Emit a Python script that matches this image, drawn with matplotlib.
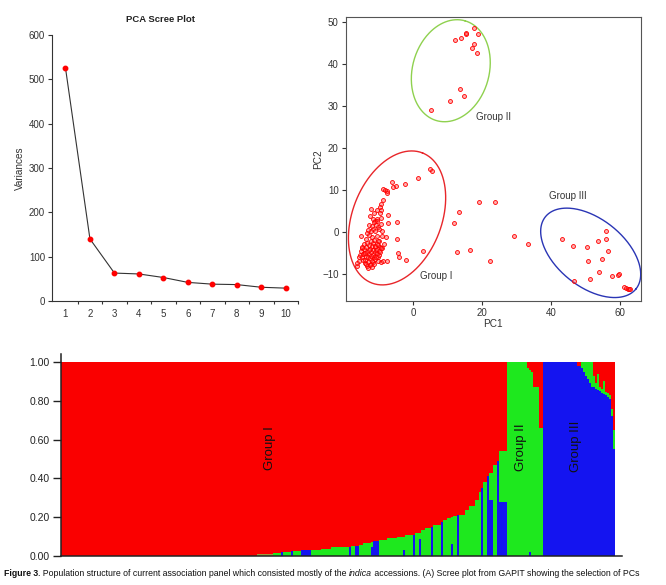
import numpy as np
import matplotlib
matplotlib.use('Agg')
import matplotlib.pyplot as plt

plt.rcParams['font.family'] = ['Liberation Sans', 'DejaVu Sans']

# ---------------- data ----------------
# (A) scree plot
pc_index = [1, 2, 3, 4, 5, 6, 7, 8, 9, 10]
pc_variance = [526, 140, 63, 61, 53, 42, 38, 37, 31, 29]

# (B) PCA scatter (PC1, PC2)
g1_pc1 = [4.8, 5.5, 1.5, -2.5, -6.2, -5.0, -5.8, -8.9, -8.1, -7.6, -7.6, -8.7, -7.3, -9.4, -9.7,
          -10.4, -9.3, -9.7, -12.2, -11.5, -10.5, -9.3, -4.8, -7.2, -12.9, -11.2, -15.2, -4.6, -7.9,
          -4.5, -4.2, -2.2, 2.8, -7.7, -9.5, -10.1, -9.7, -9.2, -16.3, -15.8, -15.5, -14.3, -15.0,
          -14.5, -14.0, -13.5, -13.2, -13.0, -12.6, -12.2, -12.0, -11.8, -11.5, -11.2, -11.0, -10.8,
          -10.5, -10.2, -10.0, -9.8, -9.5, -12.8, -13.3, -13.8, -14.2, -12.5, -12.0, -11.6, -11.3,
          -11.9, -12.4, -12.9, -13.4, -13.6, -12.7, -12.2, -11.6, -11.0, -10.6, -10.3, -10.9, -11.4,
          -12.0, -13.0, -13.5, -14.3, -14.8, -15.3, -15.0, -14.6, -13.9, -13.1, -12.4, -11.7, -11.1,
          -10.7, -10.3, -9.8, -9.6, -10.1, -10.6, -11.2, -11.7, -12.3, -12.9, -13.6, -14.0, -12.6,
          -12.1, -11.4, -13.8, -15.6, -16.2, -9.2, -9.0, -8.8, -8.5, -9.9, -10.4, -11.8, -12.6, -9.4]
g1_pc2 = [15.0, 14.5, 12.8, 11.5, 11.9, 10.9, 10.7, 10.3, 10.0, 9.9, 9.4, 7.6, 4.1, 6.7, 6.1,
          5.2, 5.2, 4.5, 5.5, 4.5, 3.2, 3.3, 2.4, 2.1, 1.7, 2.7, -0.8, -1.7, -1.2,
          -4.9, -5.8, -6.7, -4.5, -6.8, -7.0, -5.8, -3.5, -3.7, -8.0, -5.8, -5.4, -5.0, -3.8,
          -6.5, -7.2, -8.0, -8.5, -7.0, -6.2, -7.5, -6.8, -5.5, -6.0, -4.8, -3.6, -4.2,
          -5.0, -3.0, -4.5, -2.2, -3.8, -5.2, -4.6, -5.8, -4.0, -4.0, -3.2, -2.6, -1.8,
          -1.2, -2.2, -3.0, -2.6, -1.5, -0.6, 0.2, 0.8, 0.3, -0.8, 1.2, 1.8, 2.4,
          1.4, 0.6, -0.2, -2.8, -3.4, -4.4, -6.0, -5.2, -6.6, -6.0, -5.6, -7.0, -6.4,
          -5.8, -6.8, -5.4, -4.6, -2.0, -2.8, -3.2, -4.2, -4.6, -4.2, -3.6, -4.9, -7.8,
          -8.2, -7.6, -7.6, -6.8, -7.4, -1.0, 0.2, -6.8, -2.8, 0.8, 2.6, 3.2, 3.8, 2.0]
mid_pc1 = [11.9, 13.4, 19.1, 23.7, 12.6, 16.5, 22.4, 29.3, 33.4]
mid_pc2 = [2.1, 4.8, 7.2, 7.2, -4.8, -4.3, -6.9, -1.0, -2.8]
g2_pc1 = [12.1, 13.8, 15.2, 15.3, 17.5, 18.9, 17.7, 17.1, 18.5, 13.6, 14.6, 10.6, 5.1]
g2_pc2 = [45.6, 46.1, 47.2, 47.3, 48.5, 47.1, 44.8, 43.9, 42.6, 34.1, 32.3, 31.1, 29.1]
g3_pc1 = [43.1, 46.4, 46.7, 50.5, 50.6, 51.4, 53.6, 54.0, 54.8, 55.8, 55.9, 56.6, 57.6, 59.5,
          59.8, 61.3, 61.8, 62.2, 62.6, 63.0]
g3_pc2 = [-1.6, -3.2, -11.6, -3.6, -6.9, -11.1, -2.1, -9.5, -6.4, -1.7, 0.3, -4.4, -10.4, -10.2,
          -9.9, -13.1, -13.2, -13.4, -13.6, -13.6]
group_names = ['Group I', 'Group II', 'Group III']

# (C) structure plot: runs of accessions (count, blue, olive, green); red = remainder
seg_n = [98, 8, 4, 1, 4, 1, 4, 5, 5, 5, 9, 1, 2, 2, 2, 4, 1, 3, 4, 5, 3, 1, 4, 1, 2, 1, 2, 3,
         1, 4, 1, 2, 2, 1, 2, 1, 3, 2, 3, 2, 1, 1, 2, 1, 2, 2, 1, 4,
         10, 1, 1, 1, 3, 2,
         17, 2, 1, 1, 1, 1, 1, 1,
         1, 1, 1, 1, 1, 1, 1, 1, 1, 1, 1]
seg_blue = [0, 0, 0, 0.02, 0, 0.025, 0, 0.03, 0, 0, 0, 0.045, 0, 0.05, 0, 0, 0.045, 0.075, 0, 0, 0,
            0.03, 0, 0.11, 0, 0.09, 0, 0, 0.15, 0, 0.175, 0, 0, 0.06, 0, 0.21, 0, 0, 0, 0, 0, 0.35,
            0, 0.41, 0.29, 0, 0.49, 0.28,
            0, 0, 0.02, 0, 0, 0,
            1.0, 0.98, 0.97, 0.95, 0.93, 0.91, 0.89, 0.87,
            0.87, 0.86, 0.855, 0.85, 0.84, 0.835, 0.83, 0.82, 0.81, 0.72, 0.55]
seg_olive = [0, 0.01] + [0] * 71
seg_green = [0, 0, 0.015, 0, 0.02, 0, 0.025, 0, 0.03, 0.035, 0.045, 0, 0.05, 0, 0.057, 0.065, 0.025,
             0, 0.085, 0.093, 0.10, 0.07, 0.11, 0, 0.12, 0.03, 0.135, 0.145, 0, 0.16, 0, 0.185,
             0.195, 0.14, 0.205, 0, 0.21, 0.235, 0.26, 0.29, 0.33, 0, 0.38, 0, 0.14, 0.47, 0, 0.26,
             1.0, 0.97, 0.94, 0.95, 0.87, 0.66,
             0, 0, 0.03, 0.05, 0.07, 0.09, 0.11, 0.13,
             0.06, 0.03, 0.085, 0.02, 0.02, 0.065, 0.015, 0.02, 0.02, 0.04, 0.10]
struct_ticks = [0.0, 0.2, 0.4, 0.6, 0.8, 1.0]

# ---------------- figure ----------------
W, H = 666, 585
fig = plt.figure(figsize=(W / 100, H / 100), dpi=100)
fig.patch.set_facecolor('white')

def ax_px(l, t, r, b):
    return fig.add_axes([l / W, 1 - b / H, (r - l) / W, (b - t) / H])

dark = '#333333'

# ---- scree plot ----
ax1 = ax_px(52, 35, 298, 301)
ax1.plot(pc_index, pc_variance, color='#333333', lw=0.8, zorder=2)
ax1.plot(pc_index, pc_variance, 'o', color='red', ms=3.2, zorder=3)
ax1.set_xlim(0.45, 10.5)
ax1.set_ylim(0, 600)
ax1.set_yticks([0, 100, 200, 300, 400, 500, 600])
ax1.set_xticks(pc_index)
ax1.set_xticks([i + 0.5 for i in pc_index], minor=True)
for s in ['top', 'right']:
    ax1.spines[s].set_visible(False)
for s in ['left', 'bottom']:
    ax1.spines[s].set_color(dark)
    ax1.spines[s].set_linewidth(0.8)
ax1.tick_params(axis='x', which='major', length=0, pad=6, labelsize=7, colors=dark)
ax1.tick_params(axis='x', which='minor', length=2.5, width=0.8, color=dark)
ax1.tick_params(axis='y', length=3, width=0.8, pad=2, labelsize=7, colors=dark)
fig.text(160 / W, 1 - 20 / H, 'PCA Scree Plot', ha='center', va='center',
         fontsize=6.8, fontweight='bold', color='#222222')
fig.text(20 / W, 1 - 168 / H, 'Variances', ha='center', va='center', rotation=90,
         fontsize=7.2, color=dark)

# ---- PCA scatter ----
ax2 = ax_px(345.7, 17.3, 641, 301)
ax2.set_xlim(-19.6, 66.1)
ax2.set_ylim(-16.35, 51.1)
for xs, ys in [(g1_pc1, g1_pc2), (mid_pc1, mid_pc2), (g2_pc1, g2_pc2), (g3_pc1, g3_pc2)]:
    ax2.scatter(xs, ys, s=8, facecolors=(1, 0.2, 0.2, 0.4), edgecolors='red',
                linewidths=0.6, zorder=3)
ax2.set_xticks([0, 20, 40, 60])
ax2.set_yticks([-10, 0, 10, 20, 30, 40, 50])
ax2.set_yticklabels(['\u221210', '0', '10', '20', '30', '40', '50'])
for s in ax2.spines.values():
    s.set_color('#555555')
    s.set_linewidth(0.8)
ax2.tick_params(length=3, width=0.8, pad=2, labelsize=7, colors=dark)
fig.text(318 / W, 1 - 159 / H, 'PC2', ha='center', va='center', rotation=90,
         fontsize=7.2, color=dark)
fig.text(493 / W, 1 - 324 / H, 'PC1', ha='center', va='center', fontsize=7.2, color=dark)

# ellipses (center in data units, semi-axes in px, angle deg, colour)
ellipses = [((-4.7, 3.4), 69.8, 44.5, 68.6, '#e8262a'),
            ((10.9, 38.4), 51.9, 38.3, 74.2, '#8fd14f'),
            ((51.5, -4.9), 57.9, 33.9, -38.4, '#2a35b5')]
t = np.linspace(0, 2 * np.pi, 300)
for (c, a, b, ang, col) in ellipses:
    p = ax2.transData.transform(c)
    th = np.deg2rad(ang)
    ex = a * np.cos(t) * np.cos(th) - b * np.sin(t) * np.sin(th) + p[0]
    ey = a * np.cos(t) * np.sin(th) + b * np.sin(t) * np.cos(th) + p[1]
    d = ax2.transData.inverted().transform(np.column_stack([ex, ey]))
    ax2.plot(d[:, 0], d[:, 1], color=col, lw=1.0, zorder=2)
ax2.text(6.8, -10.3, group_names[0], fontsize=7, color=dark, ha='center', va='center')
ax2.text(23.2, 27.4, group_names[1], fontsize=7, color=dark, ha='center', va='center')
ax2.text(45.0, 8.5, group_names[2], fontsize=7, color=dark, ha='center', va='center')

# ---- structure plot ----
ax3 = ax_px(61, 354, 622, 556)
blue = np.repeat(seg_blue, seg_n)
olive = np.repeat(seg_olive, seg_n)
green = np.repeat(seg_green, seg_n)
red = 1 - blue - olive - green
x = np.arange(len(blue))
kw = dict(width=1.0, align='edge', linewidth=0, antialiased=False)
ax3.bar(x, blue, color='#1414f0', **kw)
ax3.bar(x, olive, bottom=blue, color='#a09a3c', **kw)
ax3.bar(x, green, bottom=blue + olive, color='#1ee81e', **kw)
ax3.bar(x, red, bottom=blue + olive + green, color='#fa0000', **kw)
ax3.set_xlim(0, 280.5)
ax3.set_ylim(0, 1.0412)
ax3.set_yticks(struct_ticks)
ax3.set_yticklabels(['%.2f' % v for v in struct_ticks])
ax3.set_xticks([])
for s in ['top', 'right']:
    ax3.spines[s].set_visible(False)
for s in ['left', 'bottom']:
    ax3.spines[s].set_color('#222222')
    ax3.spines[s].set_linewidth(1.1)
ax3.tick_params(axis='y', length=6, width=1.0, pad=2, labelsize=7.5, colors='#222222')
ax3.text(104.6, 0.556, group_names[0], rotation=90, ha='center', va='center', fontsize=9.5, color='#111111')
ax3.text(230, 0.56, group_names[1], rotation=90, ha='center', va='center', fontsize=9.5, color='#111111')
ax3.text(257.7, 0.564, group_names[2], rotation=90, ha='center', va='center', fontsize=9.5, color='#111111')

# ---- caption ----
fig.canvas.draw()
r = fig.canvas.get_renderer()
pieces = [('Figure 3', dict(fontweight='bold')),
          ('. Population structure of current association panel which consisted mostly of the ', {}),
          ('indica', dict(style='italic')),
          (' accessions. (A) Scree plot from GAPIT showing the selection of PCs', {})]
xpos = 4
for txt, k in pieces:
    tt = fig.text(xpos / W, 1 - 573 / H, txt, fontsize=6.3, color='#111111', va='center', ha='left', **k)
    bb = tt.get_window_extent(r)
    xpos = bb.x1

fig.savefig('out.png', dpi=100, facecolor='white')
